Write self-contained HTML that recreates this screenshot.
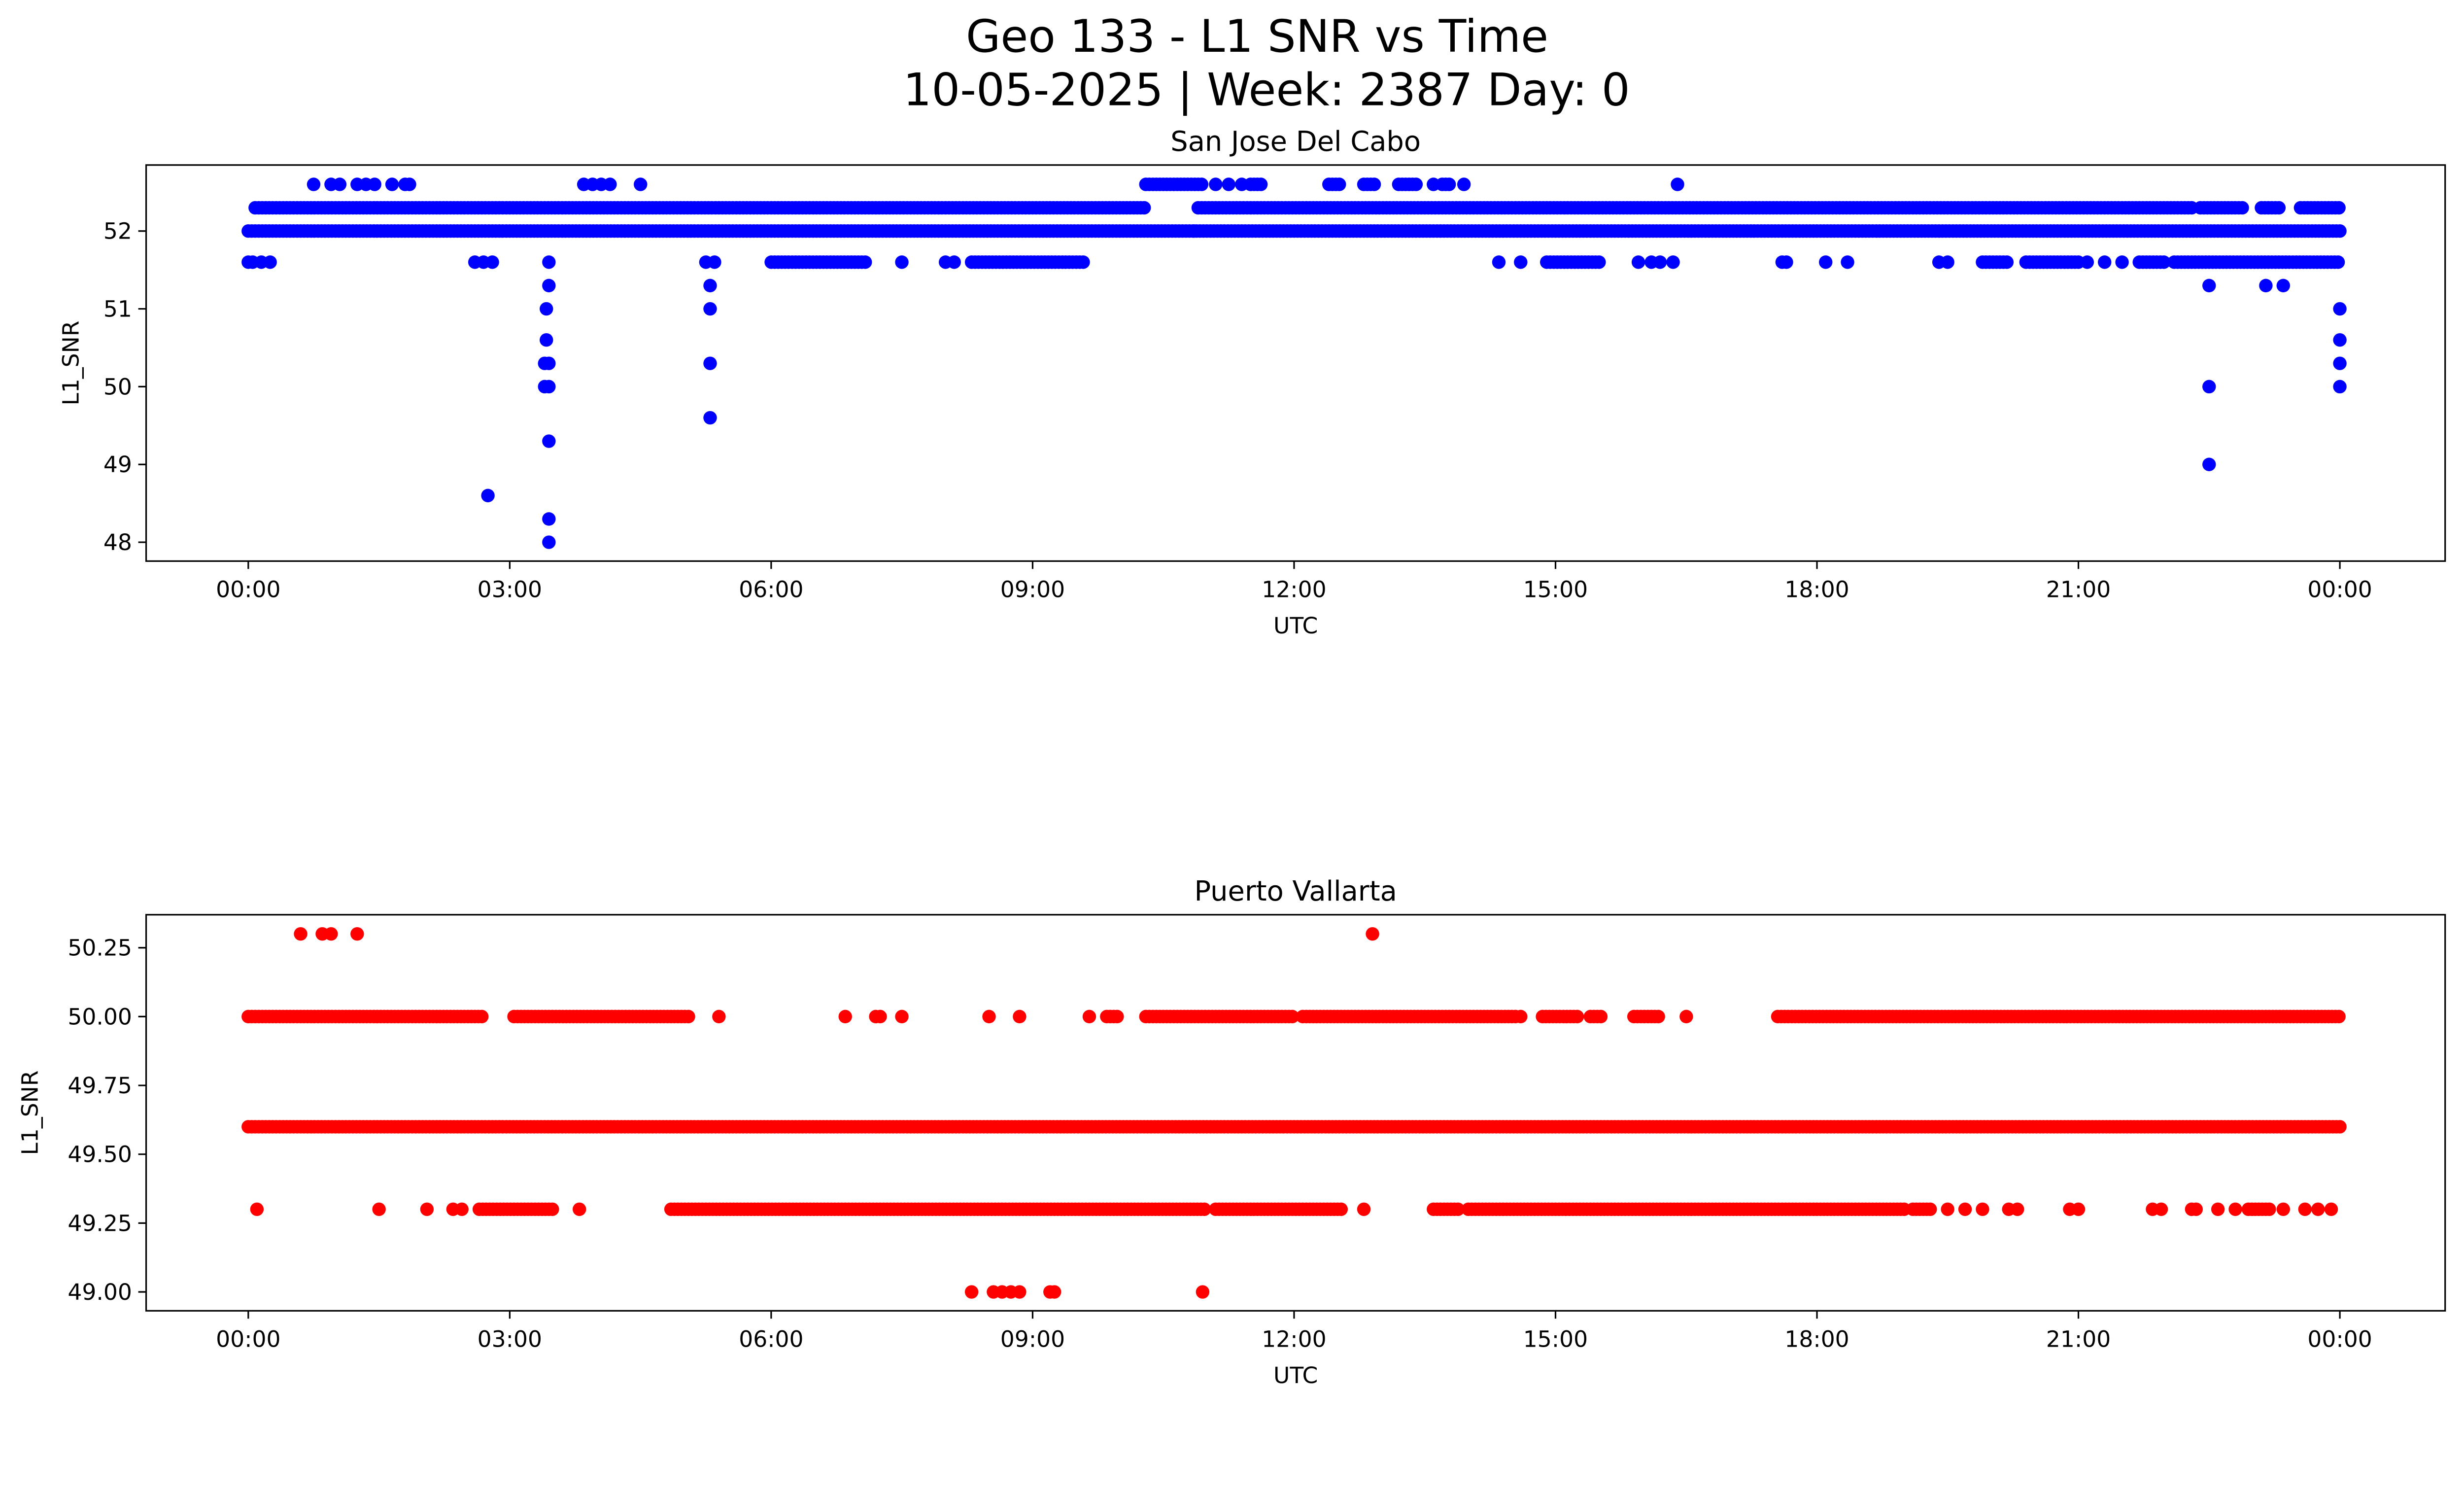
<!DOCTYPE html>
<html><head><meta charset="utf-8"><style>
html,body{margin:0;padding:0;background:#fff;overflow:hidden}
svg{display:block;width:100vw;height:57.076vw;font-family:"DejaVu Sans","Liberation Sans",sans-serif}
</style></head><body>
<svg id="chart" viewBox="0 0 1568 895" preserveAspectRatio="none" xmlns="http://www.w3.org/2000/svg">
<rect width="1568" height="895" fill="#fff"/>
<text x="800" y="33" font-size="28.5" text-anchor="middle">Geo 133 - L1 SNR vs Time</text>
<text x="806" y="67" font-size="28.5" text-anchor="middle">10-05-2025 | Week: 2387 Day: 0</text>
<g id="p1"></g>
<g id="p2"></g>
</svg>
<script>
// Top panel data (hours, SNR)
const topRuns = [[0.0,24.0,52.0],[0.08,10.3,52.3],[10.9,22.3,52.3],[22.4,22.9,52.3],[23.1,23.3,52.3],[23.55,24.0,52.3],
  [10.3,10.95,52.6],[11.5,11.65,52.6],[12.4,12.55,52.6],[12.8,12.95,52.6],[13.2,13.4,52.6],[13.7,13.8,52.6],
  [6.0,7.1,51.6],[8.3,9.6,51.6],[14.9,15.5,51.6],[19.9,20.2,51.6],[20.4,21.0,51.6],[21.7,22.0,51.6],[22.1,24.0,51.6]];
const topPts = [[0.75,52.6],[0.95,52.6],[1.05,52.6],[1.25,52.6],[1.35,52.6],[1.45,52.6],[1.65,52.6],[1.8,52.6],[1.85,52.6],
  [3.85,52.6],[3.95,52.6],[4.05,52.6],[4.15,52.6],[4.5,52.6],[11.1,52.6],[11.25,52.6],[11.4,52.6],[13.6,52.6],[13.95,52.6],[16.4,52.6],
  [0.0,51.6],[0.05,51.6],[0.15,51.6],[0.25,51.6],[2.6,51.6],[2.7,51.6],[2.8,51.6],[3.45,51.6],[5.25,51.6],[5.35,51.6],
  [7.5,51.6],[8.0,51.6],[8.1,51.6],[14.35,51.6],[14.6,51.6],[15.95,51.6],[16.1,51.6],[16.2,51.6],[16.35,51.6],
  [17.6,51.6],[17.65,51.6],[18.1,51.6],[18.35,51.6],[19.4,51.6],[19.5,51.6],[21.1,51.6],[21.3,51.6],[21.5,51.6],
  [2.75,48.6],[3.45,51.3],[3.42,51.0],[3.42,50.6],[3.45,50.3],[3.4,50.3],[3.45,50.0],[3.4,50.0],[3.45,49.3],[3.45,48.3],[3.45,48.0],
  [5.3,51.3],[5.3,51.0],[5.3,50.3],[5.3,49.6],[10.85,52.0],[22.5,51.3],[22.5,50.0],[22.5,49.0],[23.15,51.3],[23.35,51.3],
  [24.0,51.0],[24.0,50.6],[24.0,50.3],[24.0,50.0]];
const topTicks = [48,49,50,51,52];
// Bottom panel data
const botRuns = [[0.0,24.0,49.6],[0.0,2.7,50.0],[3.05,5.05,50.0],[9.85,10.0,50.0],[10.3,12.0,50.0],[12.1,14.55,50.0],[14.85,15.25,50.0],
  [15.4,15.55,50.0],[15.9,16.2,50.0],[17.55,24.0,50.0],
  [2.65,3.5,49.3],[4.85,11.0,49.3],[11.1,12.55,49.3],[13.6,13.9,49.3],[14.0,19.0,49.3],[19.1,19.3,49.3],[22.95,23.2,49.3]];
const botPts = [[5.4,50.0],[6.85,50.0],[7.2,50.0],[7.25,50.0],[7.5,50.0],[8.5,50.0],[8.85,50.0],[9.65,50.0],[14.6,50.0],[16.5,50.0],
  [0.6,50.3],[0.85,50.3],[0.95,50.3],[1.25,50.3],[12.9,50.3],
  [0.1,49.3],[1.5,49.3],[2.05,49.3],[2.35,49.3],[2.45,49.3],[3.8,49.3],[12.8,49.3],[19.5,49.3],[19.7,49.3],[19.9,49.3],
  [20.2,49.3],[20.3,49.3],[20.9,49.3],[21.0,49.3],[21.85,49.3],[21.95,49.3],[22.3,49.3],[22.35,49.3],[22.6,49.3],[22.8,49.3],
  [23.35,49.3],[23.6,49.3],[23.75,49.3],[23.9,49.3],
  [8.3,49.0],[8.55,49.0],[8.65,49.0],[8.75,49.0],[8.85,49.0],[9.2,49.0],[9.25,49.0],[10.95,49.0]];
const botTicks = [49.0,49.25,49.5,49.75,50.0,50.25];
const xTickLabels = ["00:00","03:00","06:00","09:00","12:00","15:00","18:00","21:00","00:00"];

const NS="http://www.w3.org/2000/svg";
function mk(tag,attrs,parent){const e=document.createElementNS(NS,tag);for(const k in attrs)e.setAttribute(k,attrs[k]);parent.appendChild(e);return e;}
function panel(g,cfg){
  const {top,bot,ymin,ymax,yTop,yBot,runs,pts,ticks,color,title,fmt}=cfg;
  const L=93,R=1556, x0=158, x1=1489;
  const xs=h=>x0+(x1-x0)*h/24;
  const ys=v=>yBot+(v-ymin)*(yTop-yBot)/(ymax-ymin);
  const t=mk('text',{x:(L+R)/2,y:top-9,'font-size':17.5,'text-anchor':'middle'},g);t.textContent=title;
  
  
  const marks=mk('g',{fill:color},g);
  
  
  const all=[];
  runs.forEach(r=>{for(let h=r[0];h<=r[1]+1e-9;h+=0.04)all.push([h,r[2]]);});
  pts.forEach(p=>all.push(p));
  all.forEach(p=>{const c=mk('circle',{cx:xs(p[0]).toFixed(1),cy:ys(p[1]).toFixed(1),r:4.3},marks);
    
    });
  const box=mk('rect',{x:L,y:top,width:R-L,height:bot-top,fill:'none',stroke:'#000','stroke-width':1},g);
  
  
  ticks.forEach(v=>{const y=ys(v);mk('line',{x1:L-5,x2:L,y1:y,y2:y,stroke:'#000'},g);
    const tt=mk('text',{x:L-9,y:y+5,'font-size':14.3,'text-anchor':'end'},g);tt.textContent=fmt(v);
    
    });
  xTickLabels.forEach((s,i)=>{const x=xs(i*3);mk('line',{x1:x,x2:x,y1:bot,y2:bot+5,stroke:'#000'},g);
    const tt=mk('text',{x:x,y:bot+23,'font-size':14.3,'text-anchor':'middle'},g);tt.textContent=s;
    
    });
  const xl=mk('text',{x:(L+R)/2,y:bot+46,'font-size':14.3,'text-anchor':'middle'},g);xl.textContent='UTC';
  
  
  const cy=(top+bot)/2, lx=cfg.ylabX;
  const yl=mk('text',{x:lx,y:cy,'font-size':14.3,'text-anchor':'middle',transform:`rotate(-90 ${lx} ${cy})`},g);yl.textContent='L1_SNR';
  
  
}
panel(document.getElementById('p1'),{top:105,bot:357,ymin:48,ymax:52,yTop:147,yBot:345,runs:topRuns,pts:topPts,ticks:topTicks,color:'#0000ff',title:'San Jose Del Cabo',fmt:v=>String(v),ylabX:50});
panel(document.getElementById('p2'),{top:582,bot:834,ymin:49,ymax:50.25,yTop:603,yBot:822,runs:botRuns,pts:botPts,ticks:botTicks,color:'#ff0000',title:'Puerto Vallarta',fmt:v=>v.toFixed(2),ylabX:24});
</script>
</body></html>
